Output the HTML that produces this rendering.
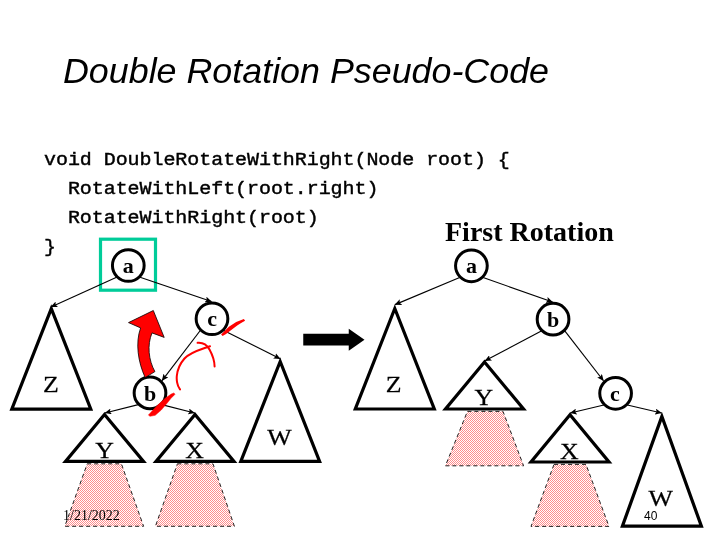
<!DOCTYPE html>
<html><head><meta charset="utf-8"><title>Double Rotation Pseudo-Code</title>
<style>
html,body{margin:0;padding:0;background:#fff;}
body{width:720px;height:540px;position:relative;overflow:hidden;}
.title{position:absolute;left:63px;top:51px;font:italic 35.85px "Liberation Sans",sans-serif;color:#000;white-space:nowrap;line-height:40px;}
.code{position:absolute;left:44px;top:145.5px;letter-spacing:-0.06px;font:normal 20px/31.25px "Liberation Mono",monospace;color:#000;white-space:pre;margin:0;transform:scaleY(0.92);transform-origin:0 0;-webkit-text-stroke:0.45px #000;}
.fr{position:absolute;left:445px;top:216px;font:bold 28px/32px "Liberation Serif",serif;color:#000;white-space:nowrap;}
.date{position:absolute;left:62.6px;top:507.8px;font:14px/16px "Liberation Serif",serif;color:#000;}
.num{position:absolute;left:644.2px;top:508.6px;font:12px/14px "Liberation Sans",sans-serif;color:#000;}
svg{position:absolute;left:0;top:0;will-change:transform;}
.title,.fr,.date,.num{will-change:transform;}
.tri{fill:#fff;stroke:#000;stroke-width:3.2;stroke-linejoin:miter;stroke-miterlimit:10;}
.node{fill:#fff;stroke:#000;stroke-width:3;}
.edge{stroke:#000;stroke-width:1.15;}
.lbl{font:23.7px "Liberation Serif",serif;fill:#000;stroke:#000;stroke-width:0.25px;}
.nl{font:bold 22px "Liberation Serif",serif;fill:#000;}
</style></head><body>
<svg width="720" height="540" viewBox="0 0 720 540">
<defs>
<pattern id="chk" width="2" height="2" patternUnits="userSpaceOnUse"><rect width="2" height="2" fill="#fff"/><rect width="1" height="1" fill="#FF8C8C" shape-rendering="crispEdges"/><rect x="1" y="1" width="1" height="1" fill="#FF8C8C" shape-rendering="crispEdges"/></pattern>
<marker id="ah" markerWidth="7" markerHeight="6" refX="6.4" refY="3" orient="auto" markerUnits="userSpaceOnUse"><path d="M0,0 L6.8,3 L0,6 L1.4,3 Z" fill="#000"/></marker>
</defs>
<polygon points="87.2,463.8 121.4,463.8 143.6,526.3 64.8,526.3" fill="url(#chk)" stroke="none"/><polygon points="87.2,463.8 121.4,463.8 143.6,526.3 64.8,526.3" fill="none" stroke="#222" stroke-width="1" stroke-dasharray="4 3"/>
<polygon points="177.4,463.8 213.0,463.8 234.4,526.3 155.4,526.3" fill="url(#chk)" stroke="none"/><polygon points="177.4,463.8 213.0,463.8 234.4,526.3 155.4,526.3" fill="none" stroke="#222" stroke-width="1" stroke-dasharray="4 3"/>
<polygon points="467.4,411.4 503.0,411.4 523.6,465.8 445.4,465.8" fill="url(#chk)" stroke="none"/><polygon points="467.4,411.4 503.0,411.4 523.6,465.8 445.4,465.8" fill="none" stroke="#222" stroke-width="1" stroke-dasharray="4 3"/>
<polygon points="554.0,464.4 586.0,464.4 609.0,526.4 531.0,526.4" fill="url(#chk)" stroke="none"/><polygon points="554.0,464.4 586.0,464.4 609.0,526.4 531.0,526.4" fill="none" stroke="#222" stroke-width="1" stroke-dasharray="4 3"/>
<rect x="100.5" y="239.2" width="55" height="51" fill="none" stroke="#00CC99" stroke-width="3.2"/>
<line x1="116.56214000000001" y1="277.23786" x2="51.0" y2="306.9" class="edge" marker-end="url(#ah)"/>
<line x1="140.03786000000002" y1="277.23786" x2="211.5" y2="301.54999999999995" class="edge" marker-end="url(#ah)"/>
<line x1="200.26214" y1="330.48786" x2="162.03786000000002" y2="380.56213999999994" class="edge" marker-end="url(#ah)"/>
<line x1="223.73786" y1="330.48786" x2="280.2" y2="358.7" class="edge" marker-end="url(#ah)"/>
<line x1="138.26214" y1="404.63786" x2="105" y2="413" class="edge" marker-end="url(#ah)"/>
<line x1="161.73786" y1="404.63786" x2="194.6" y2="413" class="edge" marker-end="url(#ah)"/>
<polygon points="51.30,308.70 11.80,409.10 90.80,409.10" class="tri"/>
<polygon points="104.50,414.60 65.50,461.40 143.50,461.40" class="tri"/>
<polygon points="195.00,414.60 156.00,461.40 234.00,461.40" class="tri"/>
<polygon points="280.20,361.50 240.80,461.40 319.60,461.40" class="tri"/>
<circle cx="128.3" cy="265.5" r="15.85" class="node"/>
<circle cx="212.0" cy="318.75" r="15.85" class="node"/>
<circle cx="150" cy="392.9" r="15.85" class="node"/>
<path d="M145.2,377.6 C138,362 135.2,343 140.6,327.9 L128.5,322.6 L153.3,310.5 L164.2,337.4 L152,332.9 C147,345 148.5,360 154.9,371.6 Z" fill="#FF0000" stroke="#000" stroke-width="0.8" stroke-linejoin="miter"/>
<line x1="459.66213999999997" y1="277.53786" x2="395" y2="304.6" class="edge" marker-end="url(#ah)"/>
<line x1="483.13786" y1="277.53786" x2="552.55" y2="301.99999999999994" class="edge" marker-end="url(#ah)"/>
<line x1="541.31214" y1="330.93786" x2="485" y2="360.8" class="edge" marker-end="url(#ah)"/>
<line x1="564.7878599999999" y1="330.93786" x2="603.4621400000001" y2="380.76214" class="edge" marker-end="url(#ah)"/>
<line x1="603.8621400000001" y1="405.03786" x2="570.3" y2="413.0" class="edge" marker-end="url(#ah)"/>
<line x1="627.33786" y1="405.03786" x2="661.5" y2="413.0" class="edge" marker-end="url(#ah)"/>
<polygon points="394.80,308.50 355.30,409.00 434.30,409.00" class="tri"/>
<polygon points="484.50,362.00 445.50,409.00 523.50,409.00" class="tri"/>
<polygon points="570.00,414.70 531.00,462.00 609.00,462.00" class="tri"/>
<polygon points="661.90,416.40 622.40,526.20 701.40,526.20" class="tri"/>
<circle cx="471.4" cy="265.8" r="15.85" class="node"/>
<circle cx="553.05" cy="319.2" r="15.85" class="node"/>
<circle cx="615.6" cy="393.3" r="15.85" class="node"/>
<polygon points="303.25,333.75 348.75,333.75 348.75,328.75 364.5,339.75 348.75,350.75 348.75,345.5 303.25,345.5" fill="#000"/>
<path d="M221.1,334.6 L228.9,326.7 Q235.5,321.5 243.9,319.1 L245.1,320.8 Q240,323.5 237.2,325.6 L230.6,330.6 Q226,334.5 222.6,336 Z" fill="#FF0000"/>
<path d="M148.4,415.1 L157,405.7 L165.2,398.3 L171.3,394 L174,392.9 L174.9,394.4 L171.2,398.1 L166.8,403.5 L161.2,410.1 L155.2,415.3 L150,416.3 Z" fill="#FF0000" stroke="#FF0000" stroke-width="0.5" stroke-linejoin="round"/>
<path d="M180,389.4 C177.5,386 176.4,381 176.8,376 C177.5,369 180.5,363 184.5,358.5 C190.5,352 201,349.5 210,346.2" fill="none" stroke="#FF0000" stroke-width="2" stroke-linecap="round"/>
<path d="M197.6,342.8 C203,342.3 207,345 209.5,349.5 C212.5,355 214.5,361 214.6,366.4" fill="none" stroke="#FF0000" stroke-width="2" stroke-linecap="round"/>
<text x="128.3" y="273.4" class="nl" text-anchor="middle">a</text>
<text x="212.1" y="326" class="nl" text-anchor="middle">c</text>
<text x="150" y="400.5" class="nl" text-anchor="middle">b</text>
<text x="471.4" y="273" class="nl" text-anchor="middle">a</text>
<text x="553.05" y="327" class="nl" text-anchor="middle">b</text>
<text x="615.0" y="400.5" class="nl" text-anchor="middle">c</text>
<text transform="translate(50.8,392) scale(1.09,1)" class="lbl" text-anchor="middle">Z</text>
<text transform="translate(104.5,457.5) scale(1.09,1)" class="lbl" text-anchor="middle">Y</text>
<text transform="translate(194.5,457.5) scale(1.09,1)" class="lbl" text-anchor="middle">X</text>
<text transform="translate(279.5,444.5) scale(1.09,1)" class="lbl" text-anchor="middle">W</text>
<text transform="translate(393.6,391.7) scale(1.09,1)" class="lbl" text-anchor="middle">Z</text>
<text transform="translate(483.7,405) scale(1.09,1)" class="lbl" text-anchor="middle">Y</text>
<text transform="translate(569.4,458.8) scale(1.09,1)" class="lbl" text-anchor="middle">X</text>
<text transform="translate(660.7,505.6) scale(1.09,1)" class="lbl" text-anchor="middle">W</text>
</svg>
<div class="title">Double Rotation Pseudo-Code</div>
<pre class="code">void DoubleRotateWithRight(Node root) {
  RotateWithLeft(root.right)
  RotateWithRight(root)
}</pre>
<div class="fr">First Rotation</div>
<div class="date">1/21/2022</div>
<div class="num">40</div>
</body></html>
